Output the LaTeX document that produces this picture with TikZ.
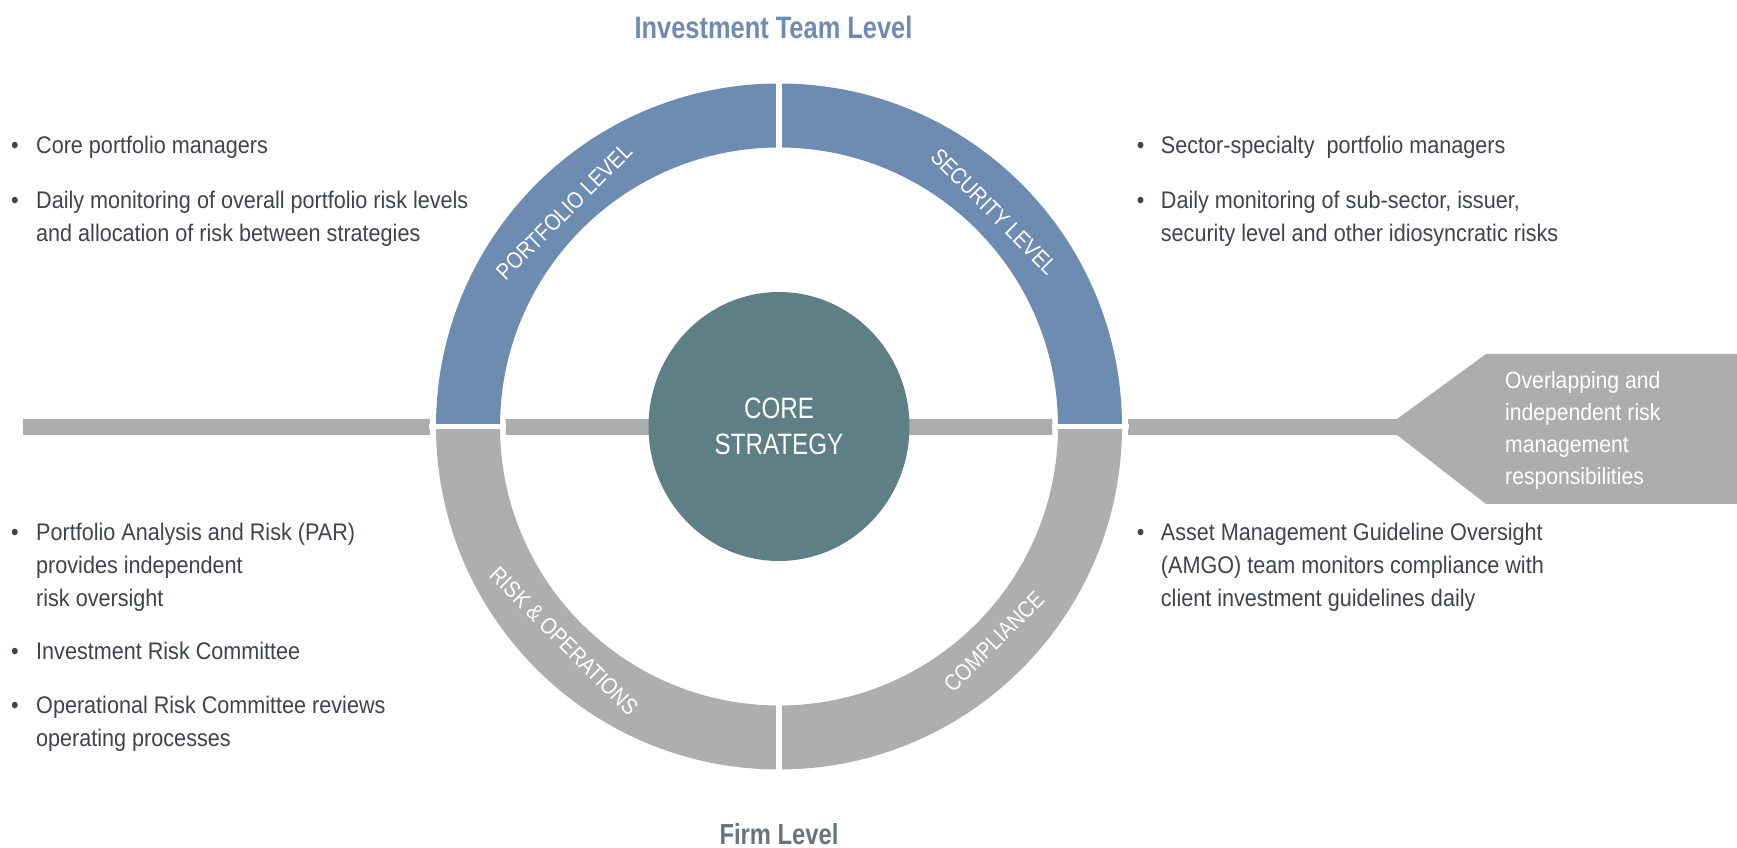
\documentclass[tikz,border=0pt]{standalone}
\usepackage{fontspec}
\setmainfont{Liberation Sans}
\newfontfamily\bodyf[FakeStretch=0.9]{Liberation Sans}
\newfontfamily\narrowf[FakeStretch=0.82]{Liberation Sans}
\newfontfamily\labelf[FakeStretch=0.86]{Liberation Sans}
\usetikzlibrary{shapes.geometric}
\definecolor{ringblue}{HTML}{6E8CB1}
\definecolor{ringgray}{HTML}{ADAEB0}
\definecolor{coreteal}{HTML}{5F7F87}
\definecolor{bargray}{HTML}{ACADAF}
\definecolor{txtgray}{HTML}{3E4448}
\definecolor{titleblue}{HTML}{6E8CB1}
\definecolor{firmgray}{HTML}{6A737C}
\newcommand\mylines[1]{\parbox[t]{600pt}{\raggedright #1}}
\begin{document}
\begin{tikzpicture}[x=1pt,y=1pt,
  body/.style={anchor=base west, inner sep=0, text=txtgray, font=\bodyf\fontsize{24}{33}\selectfont},
  bul/.style={anchor=base, inner sep=0, text=txtgray, font=\bodyf\fontsize{24}{33}\selectfont},
  ringlabel/.style={inner sep=0, text=white, font=\labelf\fontsize{23}{26}\selectfont},
  heading/.style={anchor=base, inner sep=0, font=\narrowf\bfseries\fontsize{30}{36}\selectfont},
]
\useasboundingbox (0,0) rectangle (1737,848);
\coordinate (C) at (779,421.5);
% horizontal bar and pointer
\fill[bargray] (23,413) rectangle (1398,429);
\fill[bargray] (1397,429) -- (1486,494) -- (1737,494) -- (1737,344) -- (1486,344) -- (1397,413) -- cycle;
% knockout around the ring
\fill[white, even odd rule] (C) circle (349) (C) circle (273.5);
% ring halves
\fill[ringblue] (C) ++(180:343) arc[start angle=180, end angle=0, radius=343] -- ++(-64,0) arc[start angle=0, end angle=180, radius=279] -- cycle;
\fill[ringgray] (C) ++(180:343) arc[start angle=180, end angle=360, radius=343] -- ++(-64,0) arc[start angle=360, end angle=180, radius=279] -- cycle;
% gaps
\draw[white, line width=5.5] (C) ++(0,-350) -- ++(0,700);
\draw[white, line width=5] (C) ++(-350,0) -- ++(77,0);
\draw[white, line width=5] (C) ++(350,0) -- ++(-77,0);
% core
\node[ellipse, fill=coreteal, minimum width=261, minimum height=269, inner sep=0, text=white, align=center, font=\narrowf\fontsize{29.5}{35.5}\selectfont] (core) at (C) {CORE\\STRATEGY};
% ring labels
\node[ringlabel, rotate=45] (pl) at ([shift={(135:304)}]C) {PORTFOLIO LEVEL};
\node[ringlabel, rotate=-45] (sl) at ([shift={(45:304)}]C) {SECURITY LEVEL};
\node[ringlabel, rotate=-45] (ro) at ([shift={(225:304)}]C) {RISK \& OPERATIONS};
\node[ringlabel, rotate=45] (co) at ([shift={(315:304)}]C) {COMPLIANCE};
% headings
\node[heading, text=titleblue, font=\narrowf\bfseries\fontsize{31}{36}\selectfont] (title) at (773.5,809.5) {Investment Team Level};
\node[heading, text=firmgray, font=\narrowf\bfseries\fontsize{29}{34}\selectfont] (firm) at (779,3) {Firm Level};
% pointer text
\node[anchor=base west, inner sep=0, text=white, font=\bodyf\fontsize{23.5}{32}\selectfont] (ptr) at (1505,459) {\mylines{Overlapping and\\independent risk\\management\\responsibilities}};
% top-left
\node[bul] (b1) at (15,694) {\textbullet};
\node[body] (t1) at (36,694) {\mylines{Core portfolio managers}};
\node[bul] (b2) at (15,639.7) {\textbullet};
\node[body] (t2) at (36,639.7) {\mylines{Daily monitoring of overall portfolio risk levels\\and allocation of risk between strategies}};
% top-right
\node[bul] (b3) at (1140.7,694) {\textbullet};
\node[body] (t3) at (1160.7,694) {\mylines{Sector-specialty\ \ portfolio managers}};
\node[bul] (b4) at (1140.7,639.7) {\textbullet};
\node[body] (t4) at (1160.7,639.7) {\mylines{Daily monitoring of sub-sector, issuer,\\security level and other idiosyncratic risks}};
% bottom-left
\node[bul] (b5) at (15,307) {\textbullet};
\node[body] (t5) at (36,307) {\mylines{Portfolio Analysis and Risk (PAR)\\provides independent\\risk oversight}};
\node[bul] (b6) at (15,188.7) {\textbullet};
\node[body] (t6) at (36,188.7) {\mylines{Investment Risk Committee}};
\node[bul] (b7) at (15,134.7) {\textbullet};
\node[body] (t7) at (36,134.7) {\mylines{Operational Risk Committee reviews\\operating processes}};
% bottom-right
\node[bul] (b8) at (1140.7,307.3) {\textbullet};
\node[body] (t8) at (1160.7,307.3) {\mylines{Asset Management Guideline Oversight\\(AMGO) team monitors compliance with\\client investment guidelines daily}};
\end{tikzpicture}
\end{document}
